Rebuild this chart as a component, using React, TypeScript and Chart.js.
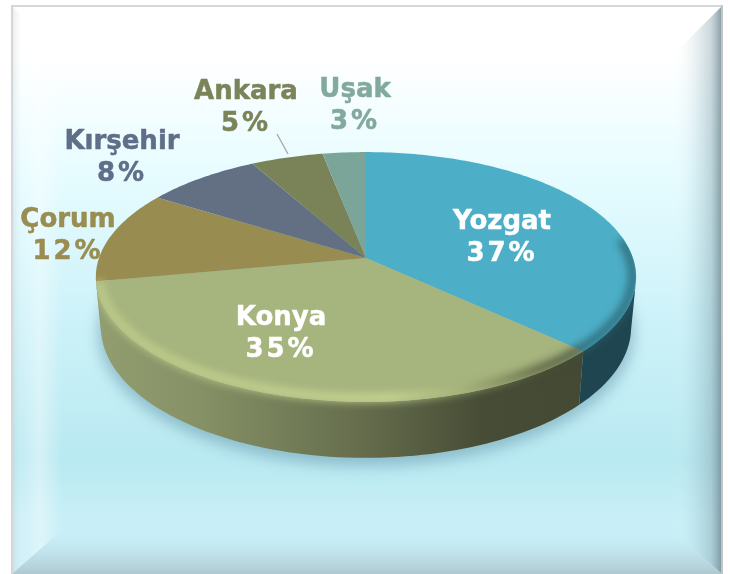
import React, { useEffect, useRef } from "react";
import { Chart, registerables } from "chart.js";

Chart.register(...registerables);

const categories = ["Yozgat", "Konya", "Çorum", "Kırşehir", "Ankara", "Uşak"];
const shares = [37, 35, 12, 8, 5, 3];
const sliceColors = ["#4dafc7", "#a6b47e", "#988c50", "#637084", "#7a8358", "#7ba598"];
const labelColors = ["#ffffff", "#ffffff", "#9a8d52", "#5f6f88", "#7b8459", "#81a99c"];
const labelAnchors = [
  [502, 222], [281, 318], [68, 220], [122, 142], [246, 92], [355, 90],
];
const wallStops = [[0, 0.88], [0.2, 0.8], [0.5, 0.6], [0.72, 0.42], [1, 0.4]];

const APEX = { x: 366, y: 258 };
const RX = 267, RY = 122, K = 0.152;
const TOP = { cy: 277, rx: 270, ry: 125 };
const BOT = { cy: 327, rx: 265, ry: 131 };

const proj = (a: number) => {
  const X = Math.cos(a), Y = Math.sin(a), w = 1 - K * Y;
  return { x: APEX.x + (RX * X) / w, y: APEX.y + (RY * Y) / w };
};
const toBottom = (p: { x: number; y: number }) => ({
  x: APEX.x + ((p.x - APEX.x) / TOP.rx) * BOT.rx,
  y: BOT.cy + ((p.y - TOP.cy) / TOP.ry) * BOT.ry,
});
const scaleHex = (hex: string, f: number) => {
  const n = parseInt(hex.slice(1), 16);
  const c = [(n >> 16) & 255, (n >> 8) & 255, n & 255].map((v) => Math.round(v * f));
  return `rgb(${c[0]},${c[1]},${c[2]})`;
};

const drawFrame = (ctx: CanvasRenderingContext2D) => {
  const L = 12, T = 6, R = 722, B = 574, bw = 50, bb = 44;
  ctx.save();
  ctx.fillStyle = "#ffffff";
  ctx.fillRect(0, 0, 730, 574);
  const g = ctx.createLinearGradient(0, T, 0, B);
  g.addColorStop(0, "#ffffff");
  g.addColorStop(0.09, "#ffffff");
  g.addColorStop(0.3, "#e6fcff");
  g.addColorStop(0.55, "#cdf2f9");
  g.addColorStop(0.8, "#b9e9f1");
  g.addColorStop(0.9, "#c8eff7");
  g.addColorStop(1, "#c8eff7");
  ctx.fillStyle = g;
  ctx.fillRect(L, T, R - L, B - T);
  const trap = (pts: number[][], x0: number, y0: number, x1: number, y1: number, stops: [number, string][]) => {
    ctx.beginPath();
    pts.forEach((p, i) => (i ? ctx.lineTo(p[0], p[1]) : ctx.moveTo(p[0], p[1])));
    ctx.closePath();
    const lg = ctx.createLinearGradient(x0, y0, x1, y1);
    stops.forEach(([o, c]) => lg.addColorStop(o, c));
    ctx.fillStyle = lg;
    ctx.fill();
  };
  trap([[L, T], [L + bw, T + bw], [L + bw, B - bb], [L, B]], L, 0, L + bw, 0, [
    [0, "rgba(185,205,215,0.4)"],
    [0.2, "rgba(255,255,255,0.14)"],
    [0.55, "rgba(255,255,255,0.4)"],
    [1, "rgba(255,255,255,0)"],
  ]);
  trap([[R, T], [R - bw, T + bw], [R - bw, B - bb], [R, B]], R, 0, R - bw, 0, [
    [0, "rgba(105,130,140,0.8)"],
    [0.22, "rgba(130,160,170,0.42)"],
    [0.6, "rgba(150,185,195,0.14)"],
    [1, "rgba(255,255,255,0)"],
  ]);
  trap([[L, B], [L + bw, B - bb], [R - bw, B - bb], [R, B]], 0, B, 0, B - bb, [
    [0, "rgba(170,190,198,0.8)"],
    [0.6, "rgba(185,215,225,0.35)"],
    [1, "rgba(200,239,247,0)"],
  ]);
  ctx.fillStyle = "#d6d6d6";
  ctx.fillRect(L - 1, T - 1, R - L + 2, 2);
  ctx.fillRect(L - 1, T - 1, 2, B - T + 1);
  ctx.fillStyle = "#c4c4c4";
  ctx.fillRect(R - 1, T - 1, 2, B - T + 1);
  ctx.restore();
};

const conicPath = (ctx: CanvasRenderingContext2D) => {
  ctx.beginPath();
  for (let i = 0; i <= 360; i++) {
    const p = proj((i * Math.PI) / 180);
    i ? ctx.lineTo(p.x, p.y) : ctx.moveTo(p.x, p.y);
  }
  ctx.closePath();
};

const pie3d = {
  id: "pie3d",
  beforeDraw(chart: any) {
    drawFrame(chart.ctx);
  },
  beforeDatasetsDraw(chart: any) {
    const ctx: CanvasRenderingContext2D = chart.ctx;
    const arcs = chart.getDatasetMeta(0).data;

    // soft shadow
    ctx.save();
    ctx.filter = "blur(7px)";
    ctx.fillStyle = "rgba(95,145,165,0.5)";
    ctx.beginPath();
    ctx.ellipse(APEX.x, BOT.cy + 6, BOT.rx + 3, BOT.ry + 2, 0, 0, Math.PI * 2);
    ctx.fill();
    ctx.restore();

    // side wall
    arcs.forEach((el: any, i: number) => {
      const tops: { x: number; y: number }[] = [];
      const n = 80;
      for (let s = 0; s <= n; s++) {
        const a = el.startAngle + ((el.endAngle - el.startAngle) * s) / n;
        const p = proj(a);
        if (p.y > TOP.cy) tops.push(p);
      }
      if (tops.length < 2) return;
      const grad = ctx.createLinearGradient(96, 0, 636, 0);
      wallStops.forEach(([o, f]) => grad.addColorStop(o, scaleHex(sliceColors[i], f)));
      ctx.beginPath();
      tops.forEach((p, j) => (j ? ctx.lineTo(p.x, p.y) : ctx.moveTo(p.x, p.y)));
      [...tops].reverse().forEach((p) => {
        const b = toBottom(p);
        ctx.lineTo(b.x, b.y);
      });
      ctx.closePath();
      ctx.fillStyle = i === 0 ? scaleHex(sliceColors[0], 0.4) : grad;
      ctx.fill();
    });

    // top face: the library's own arc elements, aimed along projected rays
    ctx.save();
    conicPath(ctx);
    ctx.clip();
    arcs.forEach((el: any) => {
      const saved = {
        x: el.x, y: el.y, startAngle: el.startAngle, endAngle: el.endAngle,
        outerRadius: el.outerRadius, innerRadius: el.innerRadius, circumference: el.circumference,
      };
      const p0 = proj(el.startAngle), p1 = proj(el.endAngle);
      const s = Math.atan2(p0.y - APEX.y, p0.x - APEX.x);
      let e = Math.atan2(p1.y - APEX.y, p1.x - APEX.x);
      while (e < s) e += Math.PI * 2;
      Object.assign(el, {
        x: APEX.x, y: APEX.y, startAngle: s, endAngle: e,
        outerRadius: 420, innerRadius: 0, circumference: e - s,
      });
      el.draw(ctx);
      Object.assign(el, saved);
    });
    ctx.restore();

    // rounded rim, kept inside the silhouette of the disc
    ctx.save();
    ctx.beginPath();
    for (let d = 180; d <= 360; d += 2) {
      const a = (d * Math.PI) / 180;
      const x = APEX.x + TOP.rx * Math.cos(a), y = TOP.cy + TOP.ry * Math.sin(a);
      d === 180 ? ctx.moveTo(x, y) : ctx.lineTo(x, y);
    }
    for (let d = 0; d <= 180; d += 2) {
      const a = (d * Math.PI) / 180;
      ctx.lineTo(APEX.x + BOT.rx * Math.cos(a), BOT.cy + BOT.ry * Math.sin(a));
    }
    ctx.closePath();
    ctx.clip();
    const rim = ctx.createLinearGradient(96, 0, 636, 0);
    rim.addColorStop(0, "rgba(196,210,140,0.85)");
    rim.addColorStop(0.55, "rgba(208,222,150,0.85)");
    rim.addColorStop(0.68, "rgba(165,176,119,0.8)");
    rim.addColorStop(0.82, "rgba(78,83,54,0.9)");
    rim.addColorStop(0.89, "rgba(63,76,60,0.9)");
    rim.addColorStop(0.905, "rgba(39,96,111,0.9)");
    rim.addColorStop(1, "rgba(39,96,111,0.9)");
    ctx.filter = "blur(4px)";
    ctx.strokeStyle = rim;
    ctx.lineWidth = 8;
    ctx.lineCap = "butt";
    ctx.beginPath();
    ctx.ellipse(APEX.x, TOP.cy - 1, TOP.rx - 3, TOP.ry - 3, 0, -0.3, Math.PI - 0.04);
    ctx.stroke();
    ctx.restore();

    return false;
  },
  afterDraw(chart: any) {
    const ctx: any = chart.ctx;
    ctx.save();
    ctx.strokeStyle = "#a89e9e";
    ctx.lineWidth = 1.2;
    ctx.beginPath();
    ctx.moveTo(277, 134);
    ctx.lineTo(288, 154);
    ctx.stroke();
    ctx.font = 'bold 26px "DejaVu Sans"';
    ctx.textAlign = "center";
    ctx.textBaseline = "middle";
    ctx.lineJoin = "round";
    ctx.lineWidth = 0.5;
    categories.forEach((name, i) => {
      const [x, y] = labelAnchors[i];
      ctx.fillStyle = labelColors[i];
      ctx.strokeStyle = labelColors[i];
      ctx.letterSpacing = "0px";
      ctx.fillText(name, x, y);
      ctx.strokeText(name, x, y);
      const pct = `${shares[i]}%`;
      ctx.letterSpacing = "3px";
      ctx.fillText(pct, x, y + 32);
      ctx.strokeText(pct, x, y + 32);
    });
    ctx.restore();
  },
};

export default function App() {
  const ref = useRef<HTMLCanvasElement>(null);
  useEffect(() => {
    document.body.style.margin = "0";
    const chart = new Chart(ref.current!, {
      type: "pie",
      data: {
        labels: categories,
        datasets: [{ data: shares, backgroundColor: sliceColors, borderWidth: 0 }],
      },
      options: {
        animation: false,
        responsive: false,
        plugins: { legend: { display: false }, tooltip: { enabled: false } },
      },
      plugins: [pie3d],
    });
    return () => chart.destroy();
  }, []);
  return <canvas ref={ref} width={730} height={574} style={{ display: "block" }} />;
}
